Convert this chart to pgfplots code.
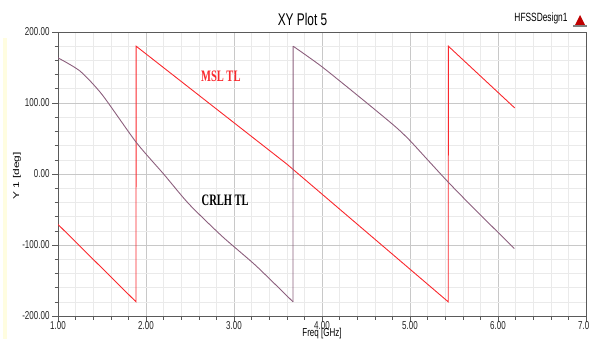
\documentclass[border=0pt]{standalone}
\usepackage{fontspec}
\setmainfont{Liberation Sans}
\newfontfamily\cf[FakeStretch=0.70]{Liberation Sans}
\newfontfamily\cserif[FakeStretch=0.66]{Liberation Serif}
\usepackage{graphicx}
\usepackage{pgfplots}
\pgfplotsset{compat=1.18}
\definecolor{mslred}{RGB}{250,40,45}
\definecolor{crlh}{RGB}{140,95,125}
\definecolor{majgrid}{RGB}{200,200,200}
\definecolor{mingrid}{RGB}{234,234,234}
\definecolor{frame}{RGB}{90,90,90}
\begin{document}
\begin{tikzpicture}[x=1bp,y=1bp]
\useasboundingbox (0,0) rectangle (589,339);
\fill[yellow!12] (3,0) rectangle (7,301);
\begin{axis}[
  at={(58bp,23bp)}, anchor=south west,
  scale only axis, width=528bp, height=284bp,
  xmin=1, xmax=7, ymin=-200, ymax=200,
  xtick={1,2,3,4,5,6,7}, ytick={-200,-100,0,100,200},
  minor x tick num=4, minor y tick num=4,
  grid=both,
  major grid style={draw=majgrid, line width=0.6bp},
  minor grid style={draw=mingrid, line width=0.6bp},
  tick pos=left, tick align=outside,
  major tick length=6bp, minor tick length=3.5bp,
  every tick/.style={draw=frame, line width=0.6bp},
  axis line style={draw=frame, line width=0.9bp},
  /pgf/number format/assume math mode=true,
  /pgf/number format/.cd, fixed, fixed zerofill, precision=2, /pgfplots/.cd,
  tick label style={font=\cf\fontsize{11.5}{12}\selectfont, text=black!85},
  xticklabel style={anchor=north, yshift=4bp},
  yticklabel style={anchor=east, xshift=1bp},
]
\addplot[mslred, line width=0.9bp] coordinates {
  (1.0,-71) (1.886,-180) (1.888,180) (3.6,14) (5.434,-180) (5.436,180) (6.19,93)
};
\addplot[crlh, line width=0.9bp, smooth, tension=0.4] coordinates {
  (1.0,163.6) (1.25,145) (1.5,112) (1.89,44.4) (2.2,0) (2.486,-42)
  (2.867,-88) (3.248,-129) (3.67,-180)
};
\addplot[crlh, line width=0.9bp] coordinates {(3.67,-180) (3.672,180)};
\addplot[crlh, line width=0.9bp, smooth, tension=0.4] coordinates {
  (3.672,180) (4.0,151) (4.5,101) (4.84,66) (5.0,47) (5.2,20) (5.436,-11.7)
  (5.712,-46.7) (6.186,-105)
};
\node[text=mslred, font=\cserif\bfseries\fontsize{16}{18}\selectfont] at (axis cs:2.85,137) {MSL TL};
\node[text=black, font=\cserif\bfseries\fontsize{16}{18}\selectfont] at (axis cs:2.9,-37) {CRLH TL};
\end{axis}
\node[font=\cf\fontsize{17}{19}\selectfont] at (302.5,319.5) {XY Plot 5};
\node[font=\cf\fontsize{12}{14}\selectfont, anchor=east] at (571,321) {HFSSDesign1};
\fill[red!75!black] (575,314) -- (580,324) -- (585,314) -- cycle;
\fill[gray] (573,312) rectangle (587,314);
\node[font=\cf\fontsize{11.5}{13}\selectfont] at (322,5) {Freq [GHz]};
\node[rotate=90, font=\fontsize{12}{14}\selectfont] at (17,163) {\scalebox{1}[0.7]{Y 1 [deg]}};
\end{tikzpicture}
\end{document}
